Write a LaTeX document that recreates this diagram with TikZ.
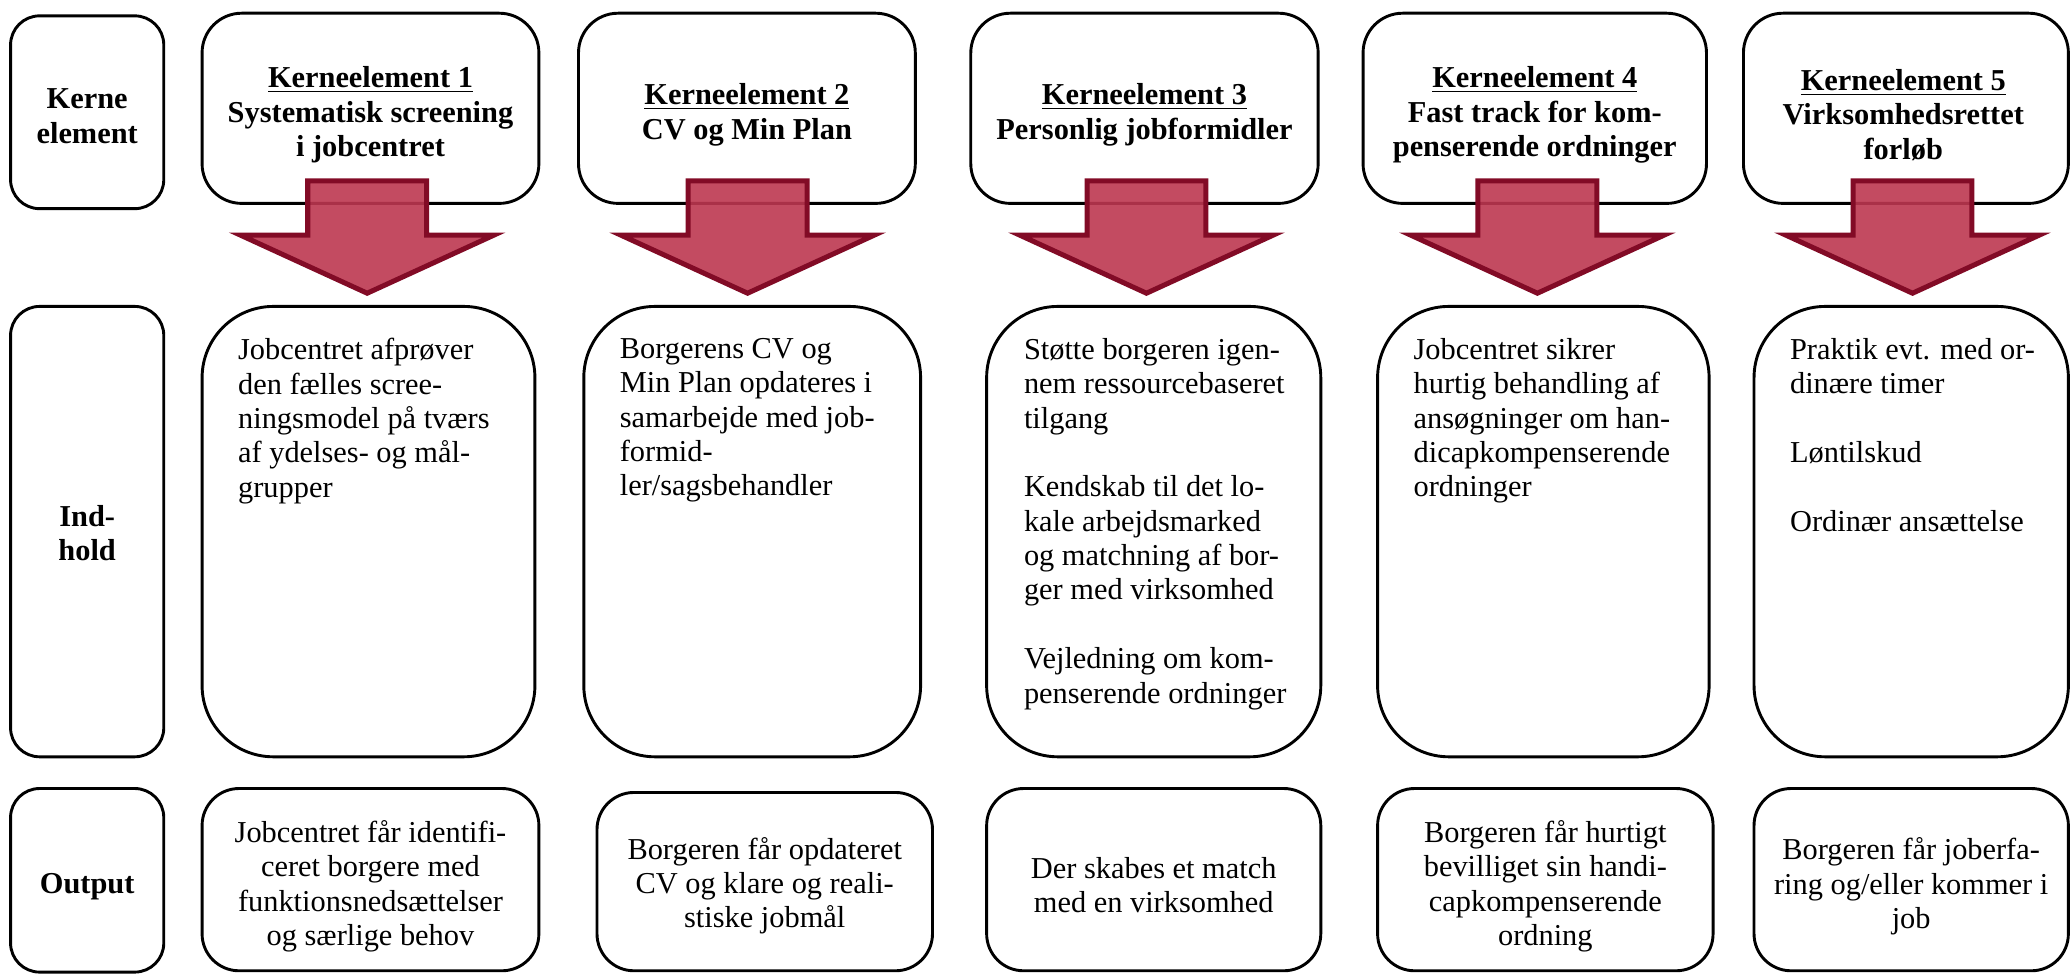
\documentclass[tikz,border=0pt]{standalone}
\usepackage{fontspec}
\setmainfont{Liberation Serif}
\newcommand\myfs{\fontsize{11.5}{13}\selectfont}
\definecolor{arrowfill}{HTML}{BD3750}
\definecolor{arrowline}{HTML}{820B26}
\begin{document}
\begin{tikzpicture}[x=0.5pt,y=-0.5pt,
  basebox/.style={draw, line width=1.1pt, inner sep=0pt},
  lbox/.style={basebox, rounded corners=11pt, minimum width=58pt},
  hbox/.style={basebox, rounded corners=15pt, minimum height=72pt},
  ibox/.style={basebox, rounded corners=27pt, minimum height=170.5pt},
  obox/.style={basebox, rounded corners=14pt, minimum height=69pt},
  ctext/.style={inner sep=0pt, align=center, font=\myfs},
  btext/.style={inner sep=0pt, align=center, font=\myfs\bfseries},
  itext/.style={anchor=north west, inner sep=0pt, align=left, font=\myfs},
  arr/.style={draw=arrowline, line width=1.9pt, fill=arrowfill, fill opacity=0.9, line join=miter}
]
\useasboundingbox (0,0) rectangle (1568,737);

% label column
\node[lbox, minimum height=73pt] (lab1) at (66,85) {};
\node[lbox, minimum height=170.5pt] (lab2) at (66,402.5) {};
\node[lbox, minimum height=69.5pt] (lab3) at (66,666.5) {};
\node[btext] (lab1t) at ([yshift=-1.5pt]lab1.center) {Kerne\\element};
\node[btext] (lab2t) at ([yshift=-0.5pt]lab2.center) {Ind-\\hold};
\node[btext] (lab3t) at ([yshift=-2.5pt]lab3.center) {Output};

% headers
\node[hbox, minimum width=127.5pt] (k1) at (280.5,82) {};
\node[hbox, minimum width=127.5pt] (k2) at (565.5,82) {};
\node[hbox, minimum width=131.5pt] (k3) at (866.5,82) {};
\node[hbox, minimum width=130pt] (k4) at (1162,82) {};
\node[hbox, minimum width=123pt] (k5) at (1443,82) {};
\node[btext] (k1t) at ([yshift=-2.5pt]k1.center) {\underline{Kerneelement 1}\\Systematisk screening\\i jobcentret};
\node[btext] (k2t) at ([yshift=-2.5pt]k2.center) {\underline{Kerneelement 2}\\CV og Min Plan};
\node[btext] (k3t) at ([yshift=-2.5pt]k3.center) {\underline{Kerneelement 3}\\Personlig jobformidler};
\node[btext] (k4t) at ([yshift=-2.5pt]k4.center) {\underline{Kerneelement 4}\\Fast track for kom-\\penserende ordninger};
\node[btext] (k5t) at ([xshift=-1pt,yshift=-2.5pt]k5.center) {\underline{Kerneelement 5}\\Virksomhedsrettet\\forløb};

% content boxes
\node[ibox, minimum width=126pt] (i1) at (279,402.5) {};
\node[ibox, minimum width=127.5pt] (i2) at (569.5,402.5) {};
\node[ibox, minimum width=126.5pt] (i3) at (873.5,402.5) {};
\node[ibox, minimum width=125.5pt] (i4) at (1168.5,402.5) {};
\node[ibox, minimum width=119pt] (i5) at (1447,402.5) {};

\node[itext] (t1) at ([shift={(28,25)}]i1.north west) {Jobcentret afprøver\\den fælles scree-\\ningsmodel på tværs\\af ydelses- og mål-\\grupper};
\node[itext] (t2) at ([shift={(28,25)}]i2.north west) {Borgerens CV og\\Min Plan opdateres i\\samarbejde med job-\\formid-\\ler/sagsbehandler};
\node[itext] (t3) at ([shift={(29,25)}]i3.north west) {Støtte borgeren igen-\\nem ressourcebaseret\\tilgang\\[13pt]Kendskab til det lo-\\kale arbejdsmarked\\og matchning af bor-\\ger med virksomhed\\[13pt]Vejledning om kom-\\penserende ordninger};
\node[itext] (t4) at ([shift={(28,25)}]i4.north west) {Jobcentret sikrer\\hurtig behandling af\\ansøgninger om han-\\dicapkompenserende\\ordninger};
\node[itext] (t5) at ([shift={(28,25)}]i5.north west) {Praktik evt. med or-\\dinære timer\\[13pt]Løntilskud\\[13pt]Ordinær ansættelse};

% output boxes
\node[obox, minimum width=127.5pt] (o1) at (280.5,666) {};
\node[obox, minimum width=127pt, minimum height=67.5pt] (o2) at (579,667.5) {};
\node[obox, minimum width=126.5pt] (o3) at (873.5,666) {};
\node[obox, minimum width=127pt] (o4) at (1170,666) {};
\node[obox, minimum width=119pt] (o5) at (1447,666) {};
\node[ctext] (o1t) at ([yshift=-2.5pt]o1.center) {Jobcentret får identifi-\\ceret borgere med\\funktionsnedsættelser\\og særlige behov};
\node[ctext] (o2t) at ([yshift=-1.5pt]o2.center) {Borgeren får opdateret\\CV og klare og reali-\\stiske jobmål};
\node[ctext] (o3t) at ([yshift=-2pt]o3.center) {Der skabes et match\\med en virksomhed};
\node[ctext] (o4t) at ([yshift=-2.5pt]o4.center) {Borgeren får hurtigt\\bevilliget sin handi-\\capkompenserende\\ordning};
\node[ctext] (o5t) at ([yshift=-2.5pt]o5.center) {Borgeren får joberfa-\\ring og/eller kommer i\\job};

% block arrows
\foreach \tx [count=\i] in {278,566,868,1164,1448}{
  \coordinate (tip\i) at (\tx,222);
  \draw[arr] (tip\i) -- ++(-96,-44) -- ++(51,0) -- ++(0,-41) -- ++(90,0) -- ++(0,41) -- ++(51,0) -- cycle;
}
\end{tikzpicture}
\end{document}
